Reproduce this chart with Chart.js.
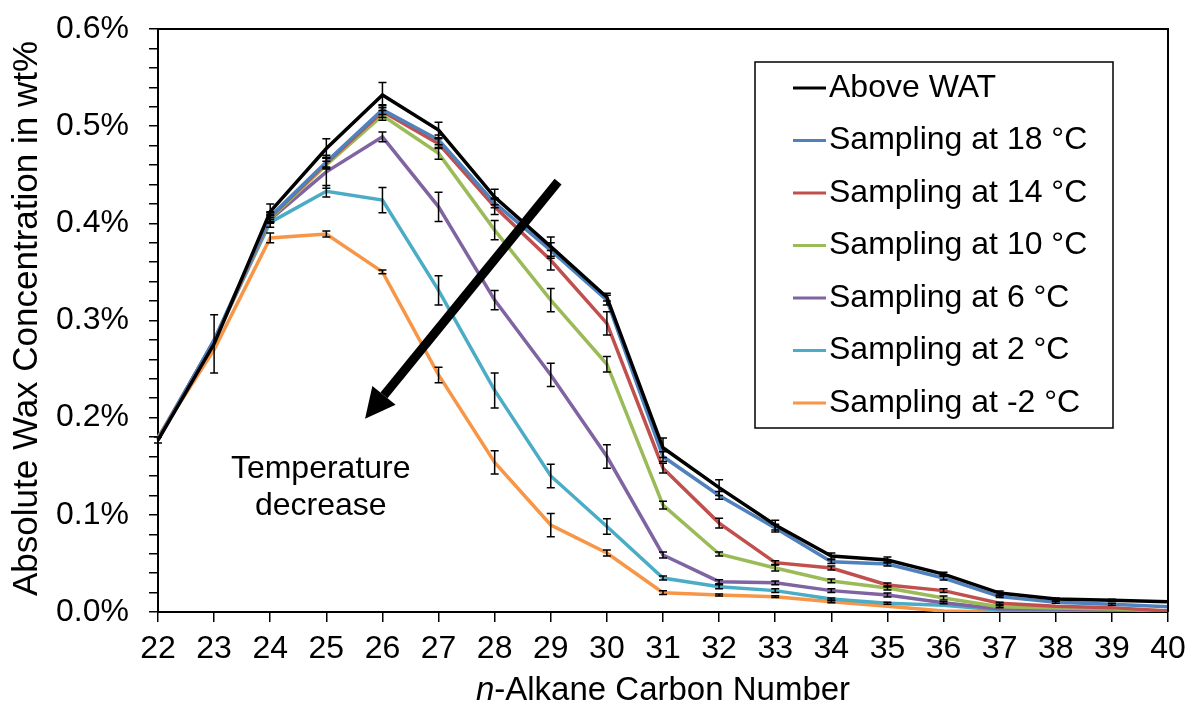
<!DOCTYPE html>
<html>
<head>
<meta charset="utf-8">
<script src="https://cdn.jsdelivr.net/npm/chart.js@4.4.1/dist/chart.umd.min.js"></script>
<style>
  html, body { margin: 0; padding: 0; background: #fff; }
  #wrap { width: 1189px; height: 707px; }
</style>
</head>
<body>
<div id="wrap"><canvas id="waxChart" width="1189" height="707"></canvas></div>
<script>
const carbonNumbers = [22, 23, 24, 25, 26, 27, 28, 29, 30, 31, 32, 33, 34, 35, 36, 37, 38, 39, 40];

// wt% values
const aboveWAT = [0.177, 0.276, 0.412, 0.477, 0.532, 0.496, 0.427, 0.376, 0.324, 0.169, 0.128, 0.0895, 0.0576, 0.0535, 0.039, 0.0195, 0.0134, 0.012, 0.0106];
const at18 = [0.177, 0.280, 0.407, 0.463, 0.517, 0.486, 0.421, 0.372, 0.321, 0.160, 0.120, 0.0864, 0.0518, 0.0494, 0.035, 0.0158, 0.010, 0.008, 0.0055];
const at14 = [0.178, 0.279, 0.406, 0.462, 0.515, 0.482, 0.417, 0.362, 0.297, 0.148, 0.0915, 0.0508, 0.0453, 0.0278, 0.022, 0.009, 0.006, 0.0045, 0.001];
const at10 = [0.178, 0.279, 0.405, 0.460, 0.511, 0.472, 0.393, 0.321, 0.255, 0.110, 0.0597, 0.0453, 0.032, 0.0247, 0.0144, 0.0055, 0.004, 0.003, 0.001];
const at6 = [0.178, 0.279, 0.404, 0.453, 0.489, 0.417, 0.321, 0.244, 0.160, 0.0587, 0.0312, 0.030, 0.022, 0.0175, 0.0096, 0.003, 0.003, 0.002, 0.001];
const at2 = [0.179, 0.279, 0.401, 0.433, 0.424, 0.331, 0.228, 0.140, 0.088, 0.035, 0.026, 0.022, 0.0134, 0.009, 0.007, 0.002, 0.001, 0.001, 0.001];
const atMinus2 = [0.180, 0.270, 0.385, 0.389, 0.350, 0.244, 0.154, 0.0895, 0.0607, 0.0199, 0.0175, 0.0158, 0.0106, 0.006, 0.001, 0, 0, 0, 0];

// error bar half widths (wt%)
const errAboveWAT = [0.003, 0.03, 0.008, 0.01, 0.013, 0.008, 0.008, 0.01, 0.004, 0.01, 0.008, 0.005, 0.003, 0.003, 0.002, 0.002, 0.001, 0.001, 0];
const err18 = [0, 0, 0.005, 0.005, 0.005, 0.005, 0.005, 0.008, 0.005, 0.005, 0.004, 0.004, 0.002, 0.002, 0.002, 0.001, 0.001, 0.001, 0];
const err14 = [0, 0, 0.005, 0.005, 0.006, 0.005, 0.008, 0.01, 0.012, 0.005, 0.005, 0.002, 0.002, 0.002, 0.002, 0.001, 0, 0, 0];
const err10 = [0, 0, 0.004, 0.004, 0.005, 0.006, 0.01, 0.012, 0.008, 0.004, 0.002, 0.003, 0.002, 0.002, 0.002, 0.001, 0, 0, 0];
const err6 = [0, 0, 0.004, 0.017, 0.005, 0.015, 0.01, 0.012, 0.012, 0.003, 0.002, 0.002, 0.002, 0.002, 0.001, 0, 0, 0, 0];
const err2 = [0, 0, 0.005, 0.006, 0.013, 0.015, 0.018, 0.012, 0.008, 0.002, 0.002, 0.002, 0.001, 0.001, 0, 0, 0, 0, 0];
const errMinus2 = [0, 0, 0.005, 0.003, 0.002, 0.008, 0.012, 0.012, 0.003, 0.002, 0.001, 0.001, 0.001, 0, 0, 0, 0, 0, 0];

const seriesLabels = ["Above WAT", "Sampling at 18 \u00B0C", "Sampling at 14 \u00B0C", "Sampling at 10 \u00B0C",
  "Sampling at 6 \u00B0C", "Sampling at 2 \u00B0C", "Sampling at -2 \u00B0C"];
const seriesColors = ["#000000", "#4F81BD", "#C0504D", "#9BBB59", "#8064A2", "#4BACC6", "#F79646"];
const seriesValues = [aboveWAT, at18, at14, at10, at6, at2, atMinus2];
const seriesErrors = [errAboveWAT, err18, err14, err10, err6, err2, errMinus2];

// annotation: arrow and text, in data units (carbon number, wt%)
const arrowFrom = [29.13, 0.443];
const arrowTo = [25.69, 0.199];
const noteAt = [24.9, 0.138];
const noteLines = ["Temperature", "decrease"];

const FONT = "'Liberation Sans', Arial, sans-serif";

const extrasPlugin = {
  id: "extras",
  afterDatasetsDraw(chart) {
    const ctx = chart.ctx;
    const xs = chart.scales.x, ys = chart.scales.y;
    // error bars
    ctx.save();
    ctx.strokeStyle = "#000";
    ctx.lineWidth = 1.5;
    chart.data.datasets.forEach((ds, di) => {
      const errs = seriesErrors[di];
      ds.data.forEach((v, i) => {
        const e = errs[i];
        if (!e) return;
        const px = xs.getPixelForValue(i);
        const y1 = ys.getPixelForValue(v - e), y2 = ys.getPixelForValue(v + e);
        ctx.beginPath();
        ctx.moveTo(px, y1); ctx.lineTo(px, y2);
        ctx.moveTo(px - 4, y1); ctx.lineTo(px + 4, y1);
        ctx.moveTo(px - 4, y2); ctx.lineTo(px + 4, y2);
        ctx.stroke();
      });
    });
    ctx.restore();
  },
  afterDraw(chart) {
    const ctx = chart.ctx;
    const a = chart.chartArea;
    const xs = chart.scales.x, ys = chart.scales.y;
    const xPix = (c) => xs.left + (c - carbonNumbers[0]) / (carbonNumbers[carbonNumbers.length - 1] - carbonNumbers[0]) * (xs.right - xs.left);

    ctx.save();
    // frame top/right
    ctx.strokeStyle = "#000";
    ctx.lineWidth = 2;
    ctx.beginPath();
    ctx.moveTo(a.left, a.top); ctx.lineTo(a.right, a.top); ctx.lineTo(a.right, a.bottom);
    ctx.stroke();

    // arrow
    const x1 = xPix(arrowFrom[0]), y1 = ys.getPixelForValue(arrowFrom[1]);
    const x2 = xPix(arrowTo[0]), y2 = ys.getPixelForValue(arrowTo[1]);
    const ang = Math.atan2(y2 - y1, x2 - x1);
    const headLen = 30, headW = 15;
    const bx = x2 - headLen * Math.cos(ang), by = y2 - headLen * Math.sin(ang);
    ctx.lineWidth = 9;
    ctx.beginPath();
    ctx.moveTo(x1, y1); ctx.lineTo(bx, by);
    ctx.stroke();
    ctx.fillStyle = "#000";
    ctx.beginPath();
    ctx.moveTo(x2, y2);
    ctx.lineTo(bx + headW * Math.sin(ang), by - headW * Math.cos(ang));
    ctx.lineTo(bx - headW * Math.sin(ang), by + headW * Math.cos(ang));
    ctx.closePath();
    ctx.fill();

    // note text
    ctx.font = "32px " + FONT;
    ctx.textAlign = "center";
    ctx.textBaseline = "alphabetic";
    const nx = xPix(noteAt[0]), ny = ys.getPixelForValue(noteAt[1]);
    noteLines.forEach((t, i) => ctx.fillText(t, nx, ny + i * 37));

    // legend box
    const boxL = a.right - 413, boxT = a.top + 33, boxW = 358, boxH = 366;
    ctx.lineWidth = 1.5;
    ctx.strokeRect(boxL, boxT, boxW, boxH);
    ctx.textAlign = "left";
    ctx.textBaseline = "middle";
    chart.data.datasets.forEach((ds, i) => {
      const rowY = boxT + 26 + i * 52.5;
      ctx.strokeStyle = ds.borderColor;
      ctx.lineWidth = 3;
      ctx.beginPath();
      ctx.moveTo(boxL + 38, rowY); ctx.lineTo(boxL + 71, rowY);
      ctx.stroke();
      ctx.fillStyle = "#000";
      ctx.fillText(ds.label, boxL + 74, rowY);
    });

    // axis titles
    ctx.font = "35px " + FONT;
    ctx.textAlign = "center";
    ctx.textBaseline = "middle";
    ctx.save();
    ctx.translate(27, (a.top + a.bottom) / 2 - 2);
    ctx.rotate(-Math.PI / 2);
    ctx.fillText("Absolute Wax Concentration in wt%", 0, 0);
    ctx.restore();

    const cx = (a.left + a.right) / 2, cy = 691;
    const italicPart = "n", restPart = "-Alkane Carbon Number";
    ctx.font = "italic 33px " + FONT;
    const w1 = ctx.measureText(italicPart).width;
    ctx.font = "33px " + FONT;
    const w2 = ctx.measureText(restPart).width;
    const startX = cx - (w1 + w2) / 2;
    ctx.textAlign = "left";
    ctx.font = "italic 33px " + FONT;
    ctx.fillText(italicPart, startX, cy);
    ctx.font = "33px " + FONT;
    ctx.fillText(restPart, startX + w1, cy);
    ctx.restore();
  }
};

new Chart(document.getElementById("waxChart"), {
  type: "line",
  data: {
    labels: carbonNumbers,
    datasets: seriesValues.map((vals, i) => ({
      label: seriesLabels[i],
      data: vals,
      borderColor: seriesColors[i],
      backgroundColor: seriesColors[i],
      borderWidth: 3.5,
      pointRadius: 0,
      tension: 0,
      fill: false
    }))
  },
  options: {
    responsive: false,
    animation: false,
    layout: { padding: { left: 0, right: 21, top: 29, bottom: 0 } },
    plugins: { legend: { display: false }, tooltip: { enabled: false } },
    scales: {
      x: {
        offset: false,
        grid: { display: true, drawOnChartArea: false, drawTicks: true, tickLength: 10, color: "#000", lineWidth: 1.5, offset: false },
        border: { color: "#000", width: 2 },
        ticks: { color: "#000", font: { family: FONT, size: 32 }, padding: 8, maxRotation: 0, autoSkip: false },
        afterFit: (s) => { s.height = 95; s.paddingLeft = 0; s.paddingRight = 0; }
      },
      y: {
        min: 0,
        max: 0.6,
        grid: { display: true, drawOnChartArea: false, drawTicks: true, tickLength: 9, color: "#000", lineWidth: 1.5 },
        border: { color: "#000", width: 2 },
        ticks: {
          stepSize: 0.02,
          autoSkip: false,
          color: "#000",
          font: { family: FONT, size: 32 },
          padding: 20,
          callback: (v) => (Math.round(v * 100) % 10 === 0 ? v.toFixed(1) + "%" : "")
        },
        afterFit: (s) => { s.width = 158; s.paddingTop = 0; s.paddingBottom = 0; }
      }
    }
  },
  plugins: [extrasPlugin]
});
</script>
</body>
</html>
